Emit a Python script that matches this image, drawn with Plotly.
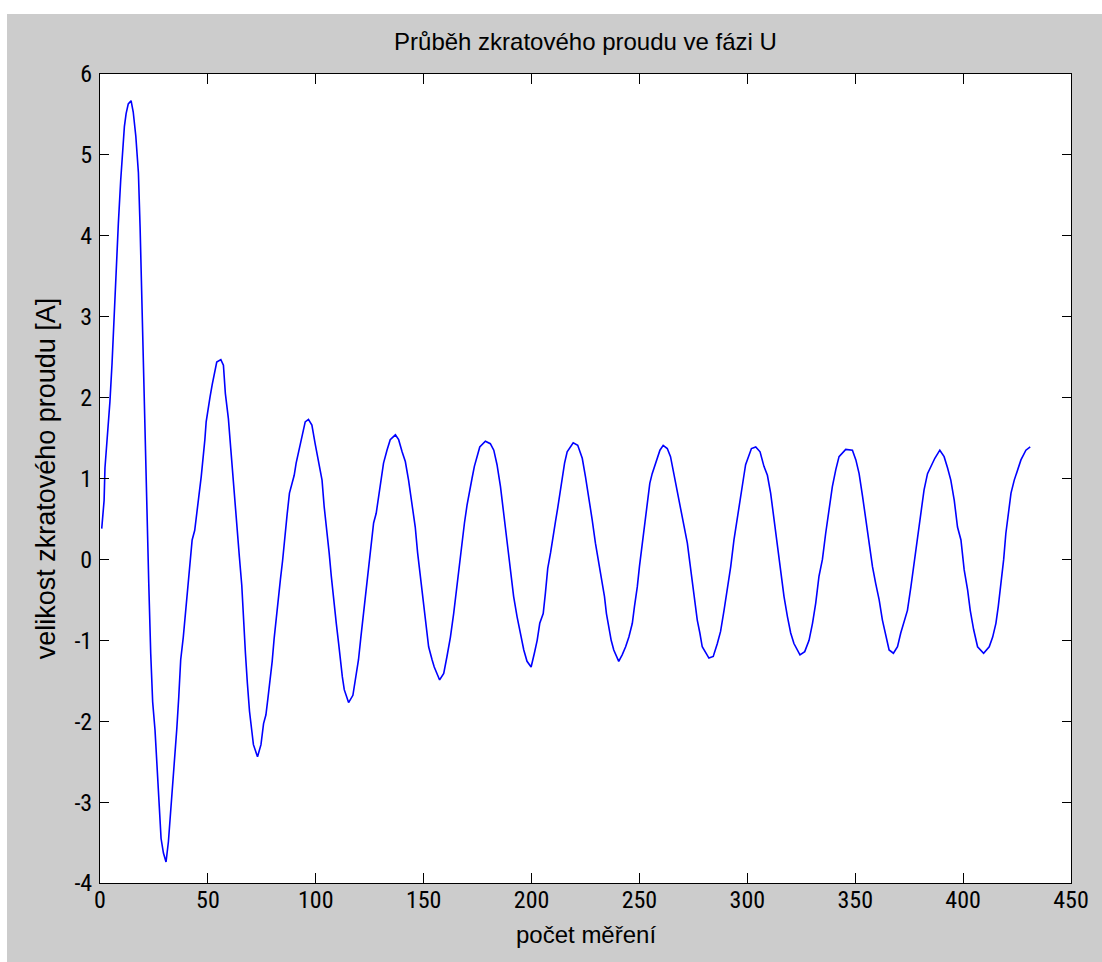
import plotly.graph_objects as go

# Sample index (počet měření) and current values
x_vals = [
    0.8, 1.9, 2.3, 3.4, 4.6, 5.6, 6.5, 7.4, 8.5, 9.6, 10.5, 11.3, 12.1, 13.1, 14.4,
    15.4, 16.6, 17.8, 18.6, 19.3, 20.1, 21.0, 21.7, 22.6, 23.5, 24.4, 25.5, 26.6,
    27.5, 28.3, 29.4, 30.6, 31.7, 32.6, 33.7, 34.7, 35.6, 36.5, 37.4, 38.6, 39.8,
    40.8, 41.8, 42.7, 43.9, 44.9, 45.8, 46.9, 47.9, 48.6, 49.2, 50.2, 51.0, 52.0,
    52.9, 54.1, 56.0, 57.2, 58.1, 59.5, 60.6, 61.7, 62.8, 63.7, 64.6, 65.7, 66.5,
    67.4, 68.3, 69.3, 70.4, 71.1, 73.0, 74.6, 75.8, 76.9, 77.8, 78.9, 79.8, 80.7,
    81.6, 82.7, 83.6, 84.6, 85.6, 86.7, 87.8, 88.9, 90.0, 90.9, 92.0, 92.8, 94.0,
    95.1, 96.6, 98.2, 99.7, 101.3, 102.9, 103.9, 105.2, 106.2, 107.2, 108.2, 109.5,
    110.6, 111.3, 112.3, 113.2, 115.2, 117.2, 118.4, 119.8, 120.9, 122.1, 123.3,
    124.5, 125.6, 126.8, 128.0, 129.1, 130.2, 131.4, 133.0, 134.5, 136.9, 138.4,
    140.0, 141.5, 143.0, 144.6, 146.1, 147.2, 148.5, 149.7, 150.8, 152.3, 153.9,
    154.9, 157.4, 159.3, 160.8, 162.4, 163.9, 165.2, 166.2, 167.8, 168.9, 170.1,
    171.3, 172.4, 173.5, 174.8, 176.0, 178.6, 180.9, 182.5, 184.0, 185.6, 187.1,
    188.7, 190.2, 191.7, 193.3, 194.8, 196.4, 197.9, 199.8, 201.3, 202.6, 203.8,
    205.4, 206.4, 207.5, 208.8, 210.0, 211.1, 212.1, 213.1, 214.2, 215.3, 216.5,
    219.3, 221.4, 223.5, 225.0, 226.5, 228.1, 229.6, 231.2, 232.7, 233.8, 234.7,
    235.8, 236.9, 238.1, 240.4, 242.0, 243.6, 245.1, 246.7, 247.7, 249.0, 250.0,
    251.3, 252.4, 253.6, 254.8, 255.9, 257.0, 258.3, 259.5, 261.0, 262.9, 264.4,
    266.0, 267.5, 269.4, 270.6, 272.2, 273.4, 274.5, 275.6, 276.8, 278.0, 279.1,
    282.2, 284.2, 286.1, 287.6, 289.2, 290.7, 292.3, 293.8, 295.4, 296.9, 298.2,
    299.2, 300.5, 301.9, 303.9, 305.9, 307.7, 309.3, 310.8, 312.4, 313.9, 315.5,
    317.0, 318.6, 320.1, 321.6, 324.4, 326.6, 328.6, 330.2, 331.7, 333.2, 334.8,
    336.3, 337.9, 339.4, 341.0, 342.5, 345.6, 348.7, 350.3, 351.8, 353.4, 354.9,
    356.4, 358.0, 359.5, 361.1, 362.6, 364.2, 365.7, 367.7, 369.6, 371.1, 372.7,
    374.2, 375.8, 377.3, 378.9, 380.4, 381.9, 383.5, 385.4, 386.9, 389.2, 391.2,
    392.8, 394.3, 395.9, 397.4, 399.0, 400.5, 402.1, 403.3, 404.9, 406.7, 409.5,
    412.1, 413.7, 415.2, 416.3, 417.5, 418.8, 419.8, 420.9, 422.2, 423.7, 425.2,
    426.8, 429.1, 431.1,
]
y_vals = [
    0.38, 0.73, 1.13, 1.50, 1.95, 2.43, 3.00, 3.58, 4.15, 4.69, 5.11, 5.35, 5.51, 5.63, 5.67,
    5.53, 5.23, 4.78, 4.09, 3.27, 2.44, 1.50, 0.59, -0.30, -1.16, -1.76, -2.11, -2.58,
    -3.08, -3.45, -3.63, -3.74, -3.49, -3.18, -2.83, -2.46, -2.09, -1.70, -1.24, -0.96, -0.63,
    -0.36, -0.01, 0.24, 0.36, 0.55, 0.78, 1.02, 1.25, 1.48, 1.70, 1.89, 2.01, 2.16,
    2.30, 2.44, 2.47, 2.40, 2.05, 1.74, 1.37, 0.98, 0.59, 0.26, 0.03, -0.32, -0.75,
    -1.16, -1.53, -1.88, -2.13, -2.29, -2.44, -2.29, -2.03, -1.92, -1.72, -1.49, -1.26, -0.98,
    -0.73, -0.48, -0.25, -0.02, 0.30, 0.55, 0.82, 0.92, 1.04, 1.19, 1.33, 1.45, 1.60,
    1.70, 1.73, 1.66, 1.43, 1.19, 0.98, 0.65, 0.36, 0.08, -0.21, -0.50, -0.79,
    -1.04, -1.24, -1.45, -1.61, -1.77, -1.68, -1.45, -1.24, -0.96, -0.67, -0.38,
    -0.13, 0.16, 0.45, 0.57, 0.78, 0.98, 1.19, 1.35, 1.48, 1.54, 1.48,
    1.33, 1.21, 0.98, 0.69, 0.40, 0.08, -0.21, -0.50, -0.79, -1.08, -1.24,
    -1.33, -1.49, -1.41, -1.20, -0.96, -0.67, -0.38, -0.09, 0.20, 0.45, 0.67,
    0.86, 1.00, 1.15, 1.29, 1.39, 1.46, 1.43, 1.35, 1.17, 0.90, 0.57,
    0.24, -0.13, -0.46, -0.71, -0.91, -1.12, -1.26, -1.33, -1.16, -1.00, -0.79,
    -0.67, -0.42, -0.11, 0.08, 0.26, 0.47, 0.63, 0.82, 0.98, 1.19, 1.33,
    1.44, 1.41, 1.25, 1.02, 0.78, 0.49, 0.20, -0.05, -0.25, -0.46, -0.67,
    -0.83, -1.00, -1.12, -1.26, -1.18, -1.08, -0.96, -0.79, -0.58, -0.34, -0.09,
    0.20, 0.45, 0.69, 0.94, 1.06, 1.15, 1.25, 1.35, 1.41, 1.37, 1.27,
    1.06, 0.86, 0.61, 0.45, 0.20, -0.05, -0.30, -0.50, -0.75, -0.91, -1.08,
    -1.22, -1.20, -1.04, -0.89, -0.63, -0.38, -0.09, 0.24, 0.53, 0.82, 1.00,
    1.17, 1.27, 1.37, 1.39, 1.33, 1.15, 1.04, 0.82, 0.49, 0.12, -0.21,
    -0.46, -0.71, -0.91, -1.04, -1.18, -1.14, -1.00, -0.79, -0.54, -0.21, 0.00,
    0.32, 0.61, 0.90, 1.11, 1.27, 1.36, 1.35, 1.23, 1.06, 0.78, 0.49,
    0.24, -0.09, -0.30, -0.50, -0.75, -0.96, -1.12, -1.16, -1.08, -0.91, -0.75,
    -0.63, -0.34, -0.05, 0.28, 0.57, 0.86, 1.06, 1.17, 1.25, 1.35, 1.27,
    1.13, 0.98, 0.73, 0.40, 0.24, -0.13, -0.38, -0.63, -0.87, -1.08, -1.16,
    -1.08, -0.96, -0.79, -0.58, -0.30, 0.00, 0.32, 0.57, 0.82, 0.98, 1.11,
    1.23, 1.35, 1.39,
]

x_ticks = [0, 50, 100, 150, 200, 250, 300, 350, 400, 450]
y_ticks = [-4, -3, -2, -1, 0, 1, 2, 3, 4, 5, 6]

title_text = "Průběh zkratového proudu ve fázi U"
x_title = "počet měření"
y_title = "velikost zkratového proudu [A]"

TICK_FONT = "Roboto Condensed, Liberation Sans, Arial, sans-serif"
TEXT_FONT = "Liberation Sans, Arial, sans-serif"

fig = go.Figure()
fig.add_trace(go.Scatter(
    x=x_vals, y=y_vals, mode="lines",
    line=dict(color="#0000ff", width=1.6),
    showlegend=False, hoverinfo="skip",
))

axis_common = dict(
    showgrid=False, zeroline=False, showline=True, linecolor="black", linewidth=1,
    mirror="ticks", ticks="inside", tickcolor="black", tickwidth=1,
    tickfont=dict(family=TICK_FONT, size=24, color="black"),
)

PLOT_H = 962 - 74 - 79

fig.update_layout(
    width=1102, height=962,
    margin=dict(l=100, r=31, t=74, b=79),
    paper_bgcolor="#cccccc", plot_bgcolor="white",
    title=dict(text=title_text, x=0.5, xref="paper", xanchor="center",
               y=1 - 42 / 962, yref="container", yanchor="middle",
               font=dict(family=TEXT_FONT, size=24, color="black")),
    xaxis=dict(range=[0, 450], tickvals=x_ticks, ticktext=[str(v) for v in x_ticks],
               ticklen=10, ticklabelstandoff=-5, **axis_common),
    yaxis=dict(range=[-4, 6], tickvals=y_ticks, ticktext=[str(v) for v in y_ticks],
               ticklen=9, ticklabelstandoff=2,
               title=dict(text=y_title, standoff=10,
                          font=dict(family=TEXT_FONT, size=27, color="black")),
               **axis_common),
    annotations=[
        dict(text=x_title, xref="paper", yref="paper", x=0.5, y=-(934 - 883) / PLOT_H,
             xanchor="center", yanchor="middle", showarrow=False,
             font=dict(family=TEXT_FONT, size=24, color="black")),
    ],
    shapes=[
        dict(type="rect", xref="paper", yref="paper", x0=-0.2, x1=1.1,
             y0=1 + 60 / PLOT_H, y1=1.2, fillcolor="white", line=dict(width=0), layer="below"),
        dict(type="rect", xref="paper", yref="paper", x0=-0.2, x1=-93 / 971,
             y0=-0.2, y1=1.2, fillcolor="white", line=dict(width=0), layer="below"),
    ],
)

fig.write_html("out.html")
